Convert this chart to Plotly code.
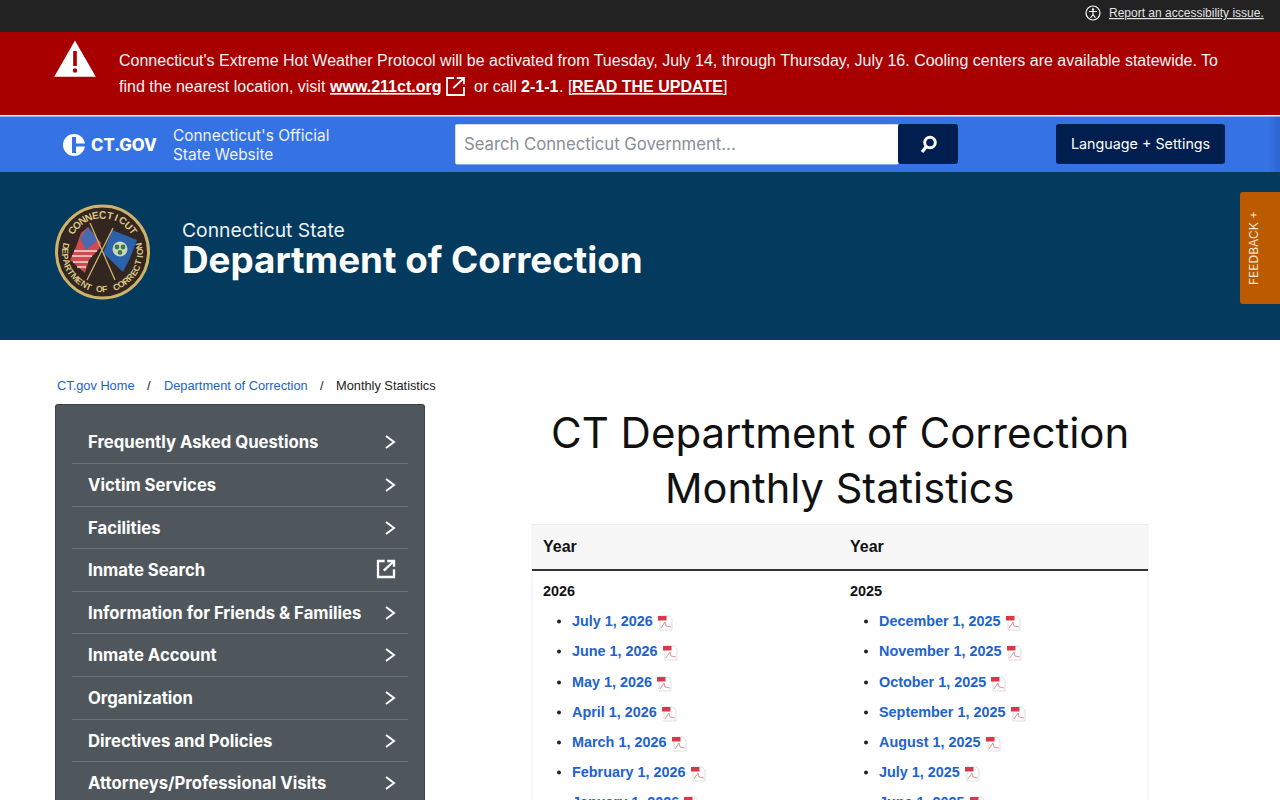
import math
import plotly.graph_objects as go

# page text
ACCESS_TEXT = "Report an accessibility issue."
ALERT_LINE_1 = "Connecticut's Extreme Hot Weather Protocol will be activated from Tuesday, July 14, through Thursday, July 16. Cooling centers are available statewide. To"
SIDE_ITEMS = ["Frequently Asked Questions", "Victim Services", "Facilities", "Inmate Search",
              "Information for Friends & Families", "Inmate Account", "Organization",
              "Directives and Policies", "Attorneys/Professional Visits"]
LINKS_2026 = ["July 1, 2026", "June 1, 2026", "May 1, 2026", "April 1, 2026", "March 1, 2026",
              "February 1, 2026", "January 1, 2026"]
LINKS_2025 = ["December 1, 2025", "November 1, 2025", "October 1, 2025", "September 1, 2025",
              "August 1, 2025", "July 1, 2025", "June 1, 2025"]

# layout numbers, in page pixels
ROW_Y = [621, 651, 682, 712, 742, 772, 802]
SIDE_Y = [441, 484, 527, 569, 612, 654, 697, 740, 782]
SIDE_RULE_Y = [463, 506, 548, 591, 633, 676, 719, 761]
ICON_X_2026 = [658, 663, 657, 662, 672, 691, 684]
ICON_X_2025 = [1006, 1007, 991, 1011, 986, 965, 970]

ARIAL = "Liberation Sans"
POPPINS = "Inter"
LINK_BLUE = "#2162d0"

fig = go.Figure()


def rect(x0, y0, x1, y1, fill, line=None, width=1):
    fig.add_shape(type="rect", x0=x0, y0=y0, x1=x1, y1=y1, fillcolor=fill,
                  line=dict(color=line or fill, width=width if line else 0))


def path(d, line="rgba(0,0,0,0)", width=1, fill="rgba(0,0,0,0)"):
    fig.add_shape(type="path", path=d, fillcolor=fill, line=dict(color=line, width=width))


def round_rect(x0, y0, x1, y1, fill, r=3):
    path(f"M {x0 + r} {y0} L {x1 - r} {y0} Q {x1} {y0} {x1} {y0 + r} L {x1} {y1 - r} Q {x1} {y1} {x1 - r} {y1} "
         f"L {x0 + r} {y1} Q {x0} {y1} {x0} {y1 - r} L {x0} {y0 + r} Q {x0} {y0} {x0 + r} {y0} Z",
         fill=fill, width=0)


def circle(cx, cy, r, fill="rgba(0,0,0,0)", line="rgba(0,0,0,0)", width=0):
    fig.add_shape(type="circle", x0=cx - r, y0=cy - r, x1=cx + r, y1=cy + r, fillcolor=fill,
                  line=dict(color=line, width=width))


def text(x, y, s, size, color, family=ARIAL, weight=400, anchor="left", under=False, angle=0, valign="middle"):
    font = dict(family=family, size=size, color=color, weight=weight)
    if under:
        font["lineposition"] = "under"
    fig.add_annotation(x=x, y=y, text=s, showarrow=False, xanchor=anchor, yanchor=valign,
                       font=font, borderpad=0, borderwidth=0, textangle=angle)


def chevron(x, y):
    path(f"M {x - 4} {y - 6} L {x + 4} {y} L {x - 4} {y + 6}", line="white", width=2)


def external_icon(x0, y0, size, width):
    s = size
    path(f"M {x0 + s * 0.45} {y0 + 1} L {x0 + 1} {y0 + 1} L {x0 + 1} {y0 + s} L {x0 + s} {y0 + s} "
         f"L {x0 + s} {y0 + s * 0.55}", line="white", width=width)
    path(f"M {x0 + s * 0.4} {y0 + s * 0.62} L {x0 + s} {y0 + 1}", line="white", width=width)
    path(f"M {x0 + s * 0.6} {y0 + 1} L {x0 + s} {y0 + 1} L {x0 + s} {y0 + s * 0.4}", line="white", width=width)


def pdf_icon(x, y):
    # y is the row centre
    top = y - 6
    path(f"M {x + 2} {top} L {x + 11} {top} L {x + 14} {top + 3} L {x + 14} {top + 14} L {x + 2} {top + 14} Z",
         line="#d0d0d0", width=0.7, fill="white")
    rect(x, top, x + 8.5, top + 4.5, "#d8394a")
    path(f"M {x + 3} {top + 12} L {x + 7} {top + 6} L {x + 8} {top + 10} L {x + 13} {top + 11}",
         line="#e0606c", width=0.7)


def arc_text(s, cx, cy, r, start, end, size, color, inward=False):
    # letters placed one by one round the seal, angles in degrees clockwise from the top
    for i, ch in enumerate(s):
        a = start + (end - start) * i / (len(s) - 1)
        rad = math.radians(a)
        x = cx + r * math.sin(rad)
        y = cy - r * math.cos(rad)
        text(x, y, ch, size, color, weight=700, anchor="center", angle=a + 180 if inward else a)


# bands
rect(0, 0, 1280, 32, "#222222")
rect(0, 32, 1280, 115, "#a80000")
rect(0, 115, 1280, 116.5, "#f2f2f2")
rect(0, 116.5, 1280, 172, "#3572e4")
rect(0, 172, 1280, 340, "#033a5e")

# accessibility link
circle(1093, 13, 7, line="white", width=1.2)
circle(1093, 9.5, 1.2, fill="white")
path("M 1089 11.5 L 1097 11.5 M 1093 11.5 L 1093 14.5 L 1090.5 18 M 1093 14.5 L 1095.5 18", line="white", width=1.1)
text(1109, 13, ACCESS_TEXT, 12, "#e4e4e4", under=True)

# alert banner
path("M 75 42 L 94.5 76 L 55.5 76 Z", line="white", width=1.5, fill="white")
rect(73.2, 51, 76.8, 66, "#a80000")
circle(75, 70.5, 2.2, fill="#a80000")
text(119, 60, ALERT_LINE_1, 16, "#f5f5f5")
text(119, 86, "find the nearest location, visit", 16, "#f5f5f5")
text(328.7, 86, "www.211ct.org", 16, "white", weight=700, under=True)
external_icon(446, 77, 18, 1.8)
text(474, 86, "or call", 16, "#f5f5f5")
text(521, 86, "2-1-1", 16, "white", weight=700)
text(559, 86, ". [", 16, "#f5f5f5")
text(571.7, 86, "READ THE UPDATE", 16, "white", weight=700, under=True)
text(723, 86, "]", 16, "#f5f5f5")

# ct.gov bar
circle(74, 145, 11, fill="white")
rect(72, 137, 76, 153, "#3572e4")
rect(74, 143.5, 86, 146.5, "#3572e4")
text(91, 145, "CT.GOV", 16.7, "white", family=POPPINS, weight=800)
text(173, 135, "Connecticut's Official", 15.4, "#eef3fd", family=POPPINS)
text(173, 154, "State Website", 15.4, "#eef3fd", family=POPPINS)
round_rect(455, 124, 899, 164.5, "#d5dbe5", r=2)
rect(456, 125, 898, 164, "white")
text(464, 144, "Search Connecticut Government...", 16.7, "#868e96", family=POPPINS)
round_rect(898, 124, 958, 164, "#001f4f")
circle(930, 142.5, 5.3, line="white", width=3)
path("M 926 147 L 922 152", line="white", width=3.2)
round_rect(1056, 124, 1225, 164, "#001f4f")
text(1140, 144, "Language + Settings", 14.3, "white", family=POPPINS, anchor="center")

# seal and department name
circle(102.5, 252, 46, fill="#33251f", line="#cdb36a", width=3)
path("M 88 227 L 101 243 L 99 249 L 89 260 L 85 273 L 70 260 L 76 247 L 81 233 Z", fill="#d24a4f")
path("M 74 251 L 97 251 M 72 256 L 92 256 M 73 262 L 88 262 M 77 267 L 86 267", line="#f0dcdc", width=1.5)
path("M 88 227 L 98 240 L 86 250 L 80 238 Z", fill="#4a6ab0")
path("M 112 230 L 137 240 L 130 258 L 123 272 L 103 253 Z", fill="#2b62ab")
circle(120, 249, 7.5, fill="#c9d8b8")
circle(117, 247, 2.4, fill="#3f7a4e")
circle(123, 247, 2.4, fill="#3f7a4e")
circle(120, 252.5, 2.4, fill="#3f7a4e")
path("M 90 223 L 115 280 M 113 228 L 87 280", line="#cdb46c", width=1.3)
arc_text("CONNECTICUT", 102.5, 252, 37, -55, 55, 10, "#dcc585")
arc_text("DEPARTMENT OF CORRECTION", 102.5, 252, 37.5, 280, 80, 8.8, "#dcc585", inward=True)
text(182, 230, "Connecticut State", 19.3, "#eef3f7", family=POPPINS)
text(182, 259.5, "Department of Correction", 36.8, "white", family=POPPINS, weight=700)

# feedback tab, with the faint shadow it throws on the blue band
rect(1270, 116.5, 1280, 172, "rgba(0,20,60,0.03)")
rect(1273, 116.5, 1280, 172, "rgba(0,20,60,0.03)")
rect(1276, 116.5, 1280, 172, "rgba(0,20,60,0.04)")
round_rect(1240, 192, 1290, 304, "#bc5a00")
text(1253, 248, "FEEDBACK +", 12, "#f6e3cf", family=POPPINS, anchor="center", angle=-90)

# breadcrumb
text(57, 385.5, "CT.gov Home", 12.8, LINK_BLUE)
text(147, 385.5, "/", 12.8, "#222222")
text(164, 385.5, "Department of Correction", 12.8, LINK_BLUE)
text(320, 385.5, "/", 12.8, "#222222")
text(336, 385.5, "Monthly Statistics", 12.8, "#222222")

# side menu
round_rect(55, 404, 425, 830, "#3c4246")
round_rect(56, 405, 424, 830, "#50575c")
for y in SIDE_RULE_Y:
    rect(72, y, 408, y + 1, "#6c7377")
for name, y in zip(SIDE_ITEMS, SIDE_Y):
    text(88, y + 0.5, name, 16.7, "white", family=POPPINS, weight=700)
    if name == "Inmate Search":
        external_icon(377, y - 9, 17, 2.3)
    else:
        chevron(390, y + 1)

# title
text(840, 432, "CT Department of Correction", 42, "#111111", family=POPPINS, anchor="center")
text(840, 488, "Monthly Statistics", 41.6, "#111111", family=POPPINS, anchor="center")

# table
rect(532, 524.5, 1148, 830, "white", line="#eeeeee")
rect(532.5, 525, 1147.5, 569, "#f7f7f7")
rect(532, 569, 1148, 571, "#333333")
for x, year, links, icons in [(543, "2026", LINKS_2026, ICON_X_2026), (850, "2025", LINKS_2025, ICON_X_2025)]:
    text(x, 546, "Year", 16, "#111111", weight=700)
    text(x, 591, year, 14.4, "#111111", weight=700)
    for label, y, icon_x in zip(links, ROW_Y, icons):
        circle(x + 16, y + 0.5, 2, fill="#222222")
        # the bottom row is cut by the window, so hang it from its top edge to keep it on the page
        if y > 790:
            text(x + 29, y - 8.5, label, 14.4, LINK_BLUE, weight=700, valign="top")
        else:
            text(x + 29, y, label, 14.4, LINK_BLUE, weight=700)
        pdf_icon(icon_x, y + 1)

fig.update_xaxes(range=[0, 1280], visible=False, fixedrange=True)
fig.update_yaxes(range=[800, 0], visible=False, fixedrange=True)
fig.update_layout(width=1280, height=800, margin=dict(l=0, r=0, t=0, b=0), showlegend=False,
                  paper_bgcolor="white", plot_bgcolor="white")

fig.write_html("out.html", config={"displayModeBar": False},
               post_script="document.body.style.margin='0';document.body.style.overflow='hidden';")
